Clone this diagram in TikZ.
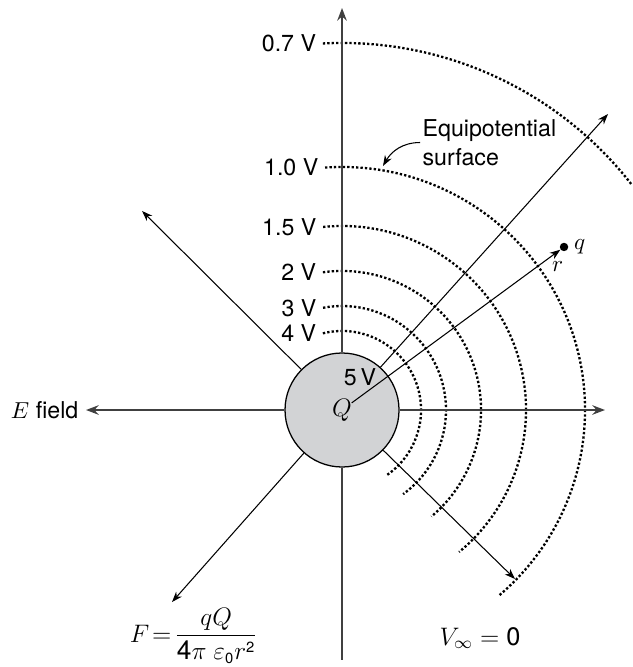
\documentclass[tikz,border=0pt]{standalone}
\usepackage{fontspec}
\setmainfont{TeX Gyre Heros}
\usetikzlibrary{arrows.meta}
\definecolor{chargegray}{RGB}{210,211,213}

\begin{document}
\begin{tikzpicture}[
    font=\fontsize{11}{13.5}\selectfont,
    charge/.style={circle, draw, line width=0.6pt, fill=chargegray, minimum size=1.9cm, inner sep=0pt},
    axis/.style={draw, line width=1pt, black!75, -{Stealth[length=6pt, width=4.5pt, inset=2pt]}},
    ray/.style={draw, line width=0.5pt, -{Stealth[length=5pt, width=3.6pt, inset=1.6pt]}},
    equi/.style={draw, line width=1.1pt, dash pattern=on 1.1pt off 1pt},
    testcharge/.style={circle, fill=black, minimum size=4pt, inner sep=0pt},
    vlabel/.style={anchor=east, inner sep=3pt}
]
  \useasboundingbox (-5.7, -4.283) rectangle (4.833, 6.833);
  % --- equipotential surfaces: dotted arcs round the charge ---------------
  \foreach \rad/\first/\last/\volt [count=\i] in {1.317/104/-56/4, 1.733/100.5/-54/3,
      2.317/97.9/-50/2, 3.067/95.9/-50.5/1.5, 4.05/94/-50/1.0, 6.117/93/37.8/0.7} {
    \draw[equi] (\first:\rad) arc[start angle=\first, end angle=\last, radius=\rad];
    \node[vlabel] (v\i) at (\first:\rad) {\volt\ V};
  }
  % --- the charge and its field lines --------------------------------------
  \node[charge] (Q) at (0, 0) {\fontsize{12}{14}\selectfont$Q$};
  \node (five) at (0.3, 0.55) {5\,V};
  \coordinate (axtop) at (0, 6.7);
  \coordinate (axbot) at (0, -4.167);
  \coordinate (axright) at (4.383, 0);
  \coordinate (rayUL) at (-3.333, 3.317);
  \coordinate (rayLL) at (-2.833, -3.2);
  \coordinate (rayLR) at (2.883, -2.817);
  \coordinate (rayUR) at (4.433, 4.933);
  \node[anchor=east, inner sep=0.12cm] (Efield) at (-4.267, 0) {$E$ field};
  \draw[axis] (Q) -- (axtop);
  \draw[axis, -] (Q) -- (axbot);
  \draw[axis] (Q) -- (axright);
  \draw[axis] (Q) -- (Efield);
  \foreach \tip in {rayUL, rayLL, rayLR, rayUR} { \draw[ray] (Q) -- (\tip); }
  % --- test charge q at distance r -----------------------------------------
  \node[testcharge, label={[label distance=-1pt]right:$q$},
        label={[xshift=-3pt, label distance=1pt]below:$r$}] (q) at (3.7, 2.717) {};
  \draw[ray, shorten <=0.2cm] (Q.center) -- (q);
  % --- labels ---------------------------------------------------------------
  \node[align=left, anchor=west, inner sep=1pt] (eqlabel) at (1.3, 4.458) {Equipotential\\surface};
  \coordinate (eqtip) at (0.683, 4.067);
  \draw[ray] (eqlabel.west) to[out=180, in=60] (eqtip);
  \node[font=\fontsize{12.5}{15}\selectfont] (force) at (-2.467, -3.76)
    {$F\!=\!\displaystyle\frac{qQ}{\mbox{4}\pi\;\varepsilon_{\mbox{\scriptsize 0}}r^{\mbox{\scriptsize 2}}}$};
  \node[font=\fontsize{12}{14}\selectfont] (vinf) at (2.3, -3.8) {$V_\infty = {}$0};
\end{tikzpicture}
\end{document}
